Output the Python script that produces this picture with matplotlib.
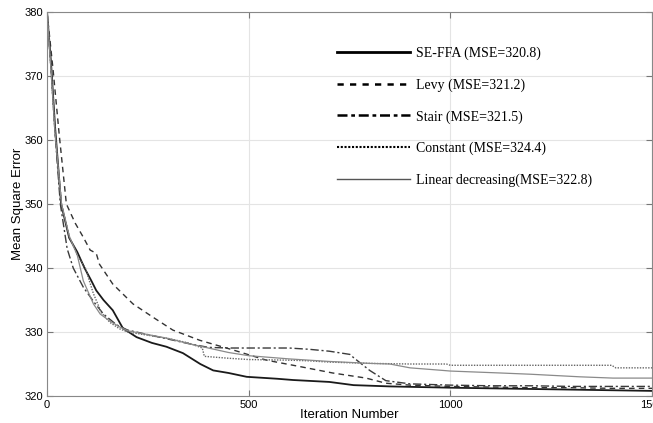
import matplotlib.pyplot as plt

# iteration / MSE values
sefa_it = [0, 10, 20, 35, 55, 75, 93, 110, 122, 140, 163, 188, 222, 260, 296, 337, 380, 412,
           450, 495, 570, 610, 700, 760, 850, 925, 1000, 1100, 1200, 1300, 1400, 1500]
sefa_val = [380, 372, 362, 350, 344.7, 342.5, 340, 338, 336.5, 335, 333.4, 330.6, 329.2, 328.3,
            327.7, 326.7, 325, 324, 323.6, 323, 322.7, 322.5, 322.2, 321.7, 321.5, 321.4, 321.3,
            321.2, 321.1, 321.0, 320.9, 320.8]

levy_it = [0, 15, 30, 48, 70, 90, 107, 122, 130, 163, 213, 263, 312, 379, 461, 544, 627, 708,
           791, 840, 900, 1000, 1100, 1200, 1300, 1400, 1500]
levy_val = [380, 371, 361, 350, 347, 344.8, 342.8, 342.3, 340.6, 337.5, 334.4, 332.3, 330.3,
            328.7, 327.2, 325.6, 324.6, 323.6, 322.8, 322, 321.7, 321.5, 321.4, 321.3, 321.3,
            321.2, 321.2]

stair_it = [0, 10, 20, 33, 50, 65, 90, 115, 140, 173, 200, 250, 300, 350, 400, 450, 500, 600,
            650, 700, 751, 760, 800, 840, 900, 1000, 1100, 1200, 1300, 1400, 1500]
stair_val = [380, 371, 361, 350, 343, 340, 337, 334.8, 332.8, 331.1, 330.3, 329.6, 328.9, 328.2,
             327.6, 327.5, 327.5, 327.5, 327.3, 327, 326.5, 326, 324, 322.4, 321.9, 321.7, 321.6,
             321.6, 321.5, 321.5, 321.5]

const_it = [0, 10, 20, 36, 55, 75, 95, 115, 135, 156, 180, 200, 250, 300, 350, 385, 390, 450,
            500, 600, 650, 700, 800, 900, 990, 1000, 1100, 1200, 1300, 1400, 1410, 1500]
const_val = [380, 371, 361, 350, 345, 342, 340, 336, 333, 331.5, 330.5, 330, 329.5, 329, 328.3,
             327.5, 326.2, 325.9, 325.7, 325.6, 325.5, 325.3, 325.1, 325, 325, 324.8, 324.8,
             324.8, 324.8, 324.8, 324.4, 324.4]

lin_it = [0, 10, 20, 36, 55, 75, 90, 115, 132, 156, 180, 200, 250, 300, 350, 400, 450, 500,
          600, 700, 800, 850, 900, 981, 1000, 1123, 1200, 1321, 1403, 1500]
lin_val = [380, 371, 361, 350, 345, 342, 338, 334.4, 332.8, 331.7, 330.8, 330.2, 329.6, 329,
           328.2, 327.5, 326.8, 326.3, 325.8, 325.4, 325.1, 325, 324.4, 324, 323.9, 323.6, 323.4,
           323, 322.8, 322.8]

labels = ['SE-FFA (MSE=320.8)', 'Levy (MSE=321.2)', 'Stair (MSE=321.5)',
          'Constant (MSE=324.4)', 'Linear decreasing(MSE=322.8)']

plt.rcParams['font.family'] = ['Liberation Sans', 'DejaVu Sans']

fig = plt.figure(figsize=(6.53, 4.23), dpi=100)
ax = fig.add_axes([0.072, 0.0638, 0.9265, 0.9078])

ax.plot(sefa_it, sefa_val, color='#1a1a1a', lw=1.3, label=labels[0])
ax.plot(levy_it, levy_val, color='#333333', lw=1.0, ls=(0, (4, 3)), label=labels[1])
ax.plot(stair_it, stair_val, color='#3a3a3a', lw=1.0, ls=(0, (6, 2, 1.5, 2)), label=labels[2])
ax.plot(const_it, const_val, color='#666666', lw=1.0, ls=(0, (1, 1)), label=labels[3])
ax.plot(lin_it, lin_val, color='#8a8a8a', lw=0.9, label=labels[4])

ax.set_xlim(0, 1500)
ax.set_ylim(320, 380)
ax.set_xticks([0, 500, 1000, 1500])
ax.set_yticks(range(320, 381, 10))
ax.grid(True, color='#e4e4e4', lw=0.8)
ax.tick_params(direction='in', top=True, right=True, length=4, labelsize=8,
               color='#777777', pad=3)
for s in ax.spines.values():
    s.set_color('#888888')

ax.set_xlabel('Iteration Number', fontsize=9.5, labelpad=-1)
ax.set_ylabel('Mean Square Error', fontsize=9.5, labelpad=0)

leg = ax.legend(loc='upper left', bbox_to_anchor=(0.479, 0.909), frameon=False,
                borderpad=0, borderaxespad=0, handlelength=5.3, handletextpad=0.4,
                labelspacing=1.3, prop={'family': 'Liberation Serif', 'size': 10})
styles = [('black', 2.0, '-'), ('black', 1.8, (0, (2.5, 2.5))),
          ('black', 1.8, (0, (4, 1.5, 1.5, 1.5))), ('black', 1.5, (0, (1, 0.8))),
          ('#555555', 1.0, '-')]
for ln, (c, w, st) in zip(leg.get_lines(), styles):
    ln.set_color(c)
    ln.set_linewidth(w)
    ln.set_linestyle(st)

fig.savefig('out.png', dpi=100)
